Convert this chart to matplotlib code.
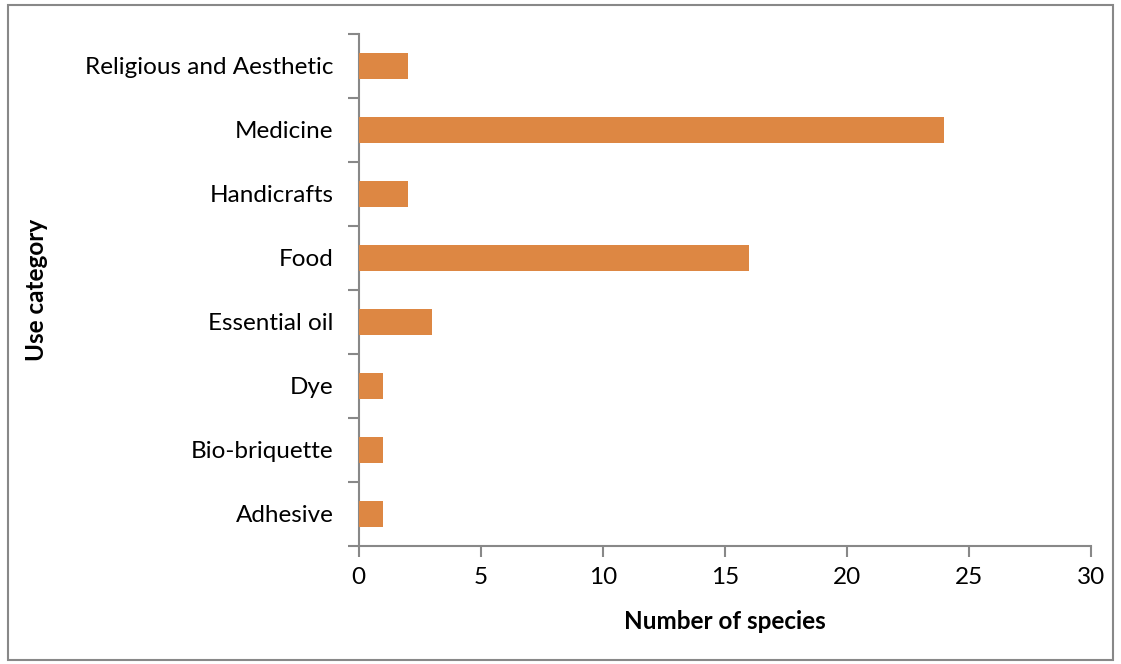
import matplotlib
matplotlib.use("Agg")
import matplotlib.pyplot as plt
from matplotlib.patches import Rectangle

categories = ["Adhesive", "Bio-briquette", "Dye", "Essential oil", "Food",
              "Handicrafts", "Medicine", "Religious and Aesthetic"]
values = [1, 1, 1, 3, 16, 2, 24, 2]
xticks = [0, 5, 10, 15, 20, 25, 30]

plt.rcParams['font.family'] = ['Lato', 'DejaVu Sans']
FS = 17.5

fig = plt.figure(figsize=(11.21, 6.64), dpi=100)
ax = fig.add_axes([0.320, 0.178, 0.653, 0.771])

ypos = list(range(len(categories)))
ax.barh(ypos, values, height=0.4, color="#DD8743", edgecolor="none", zorder=3)

ax.set_xlim(0, 30)
ax.set_ylim(-0.5, len(categories) - 0.5)
ax.set_xticks(xticks)
ax.set_xticklabels([str(t) for t in xticks], fontsize=FS)
ax.set_yticks(ypos)
ax.set_yticklabels(categories, fontsize=FS)
ax.set_yticks([i - 0.5 for i in range(len(categories) + 1)], minor=True)

ax.tick_params(axis='y', which='major', length=0, pad=18)
ax.tick_params(axis='y', which='minor', length=8, width=1.5, color="#888888")
ax.tick_params(axis='x', which='major', length=8, width=1.5, color="#888888", pad=7)

for s in ["top", "right"]:
    ax.spines[s].set_visible(False)
for s in ["left", "bottom"]:
    ax.spines[s].set_color("#888888")
    ax.spines[s].set_linewidth(1.5)

ax.set_xlabel("Number of species", fontsize=FS, fontweight="bold", labelpad=16)
ax.set_ylabel("Use category", fontsize=FS, fontweight="bold")
ax.yaxis.set_label_coords(-0.424, 0.5)

fig.patches.append(Rectangle((0.007, 0.006), 0.986, 0.986, transform=fig.transFigure,
                             fill=False, edgecolor="#888888", linewidth=1.5))

fig.savefig("out.png", dpi=100)
